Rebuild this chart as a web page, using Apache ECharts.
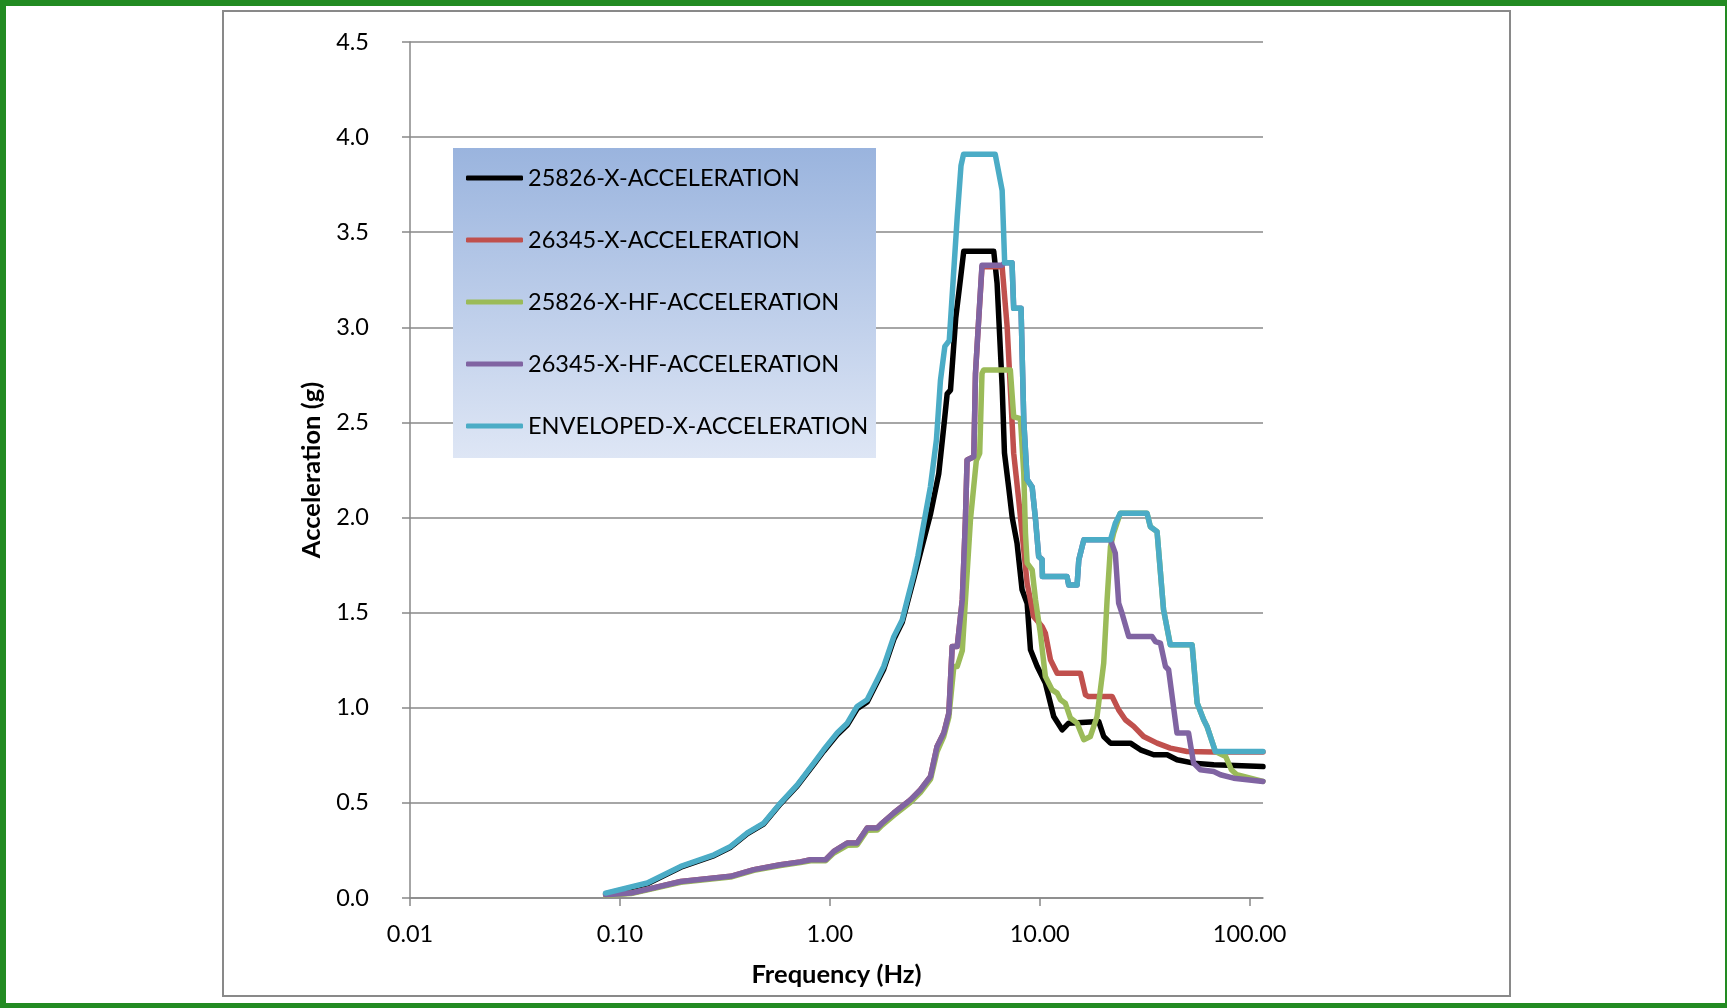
<!DOCTYPE html>
<html><head><meta charset="utf-8">
<script src="https://cdn.jsdelivr.net/npm/echarts@6/dist/echarts.min.js"></script>
<style>
html,body{margin:0;padding:0;background:#fff;}
#chart{position:absolute;left:0;top:0;width:1727px;height:1008px;}
#frame{position:absolute;left:222px;top:10px;width:1289px;height:987px;border:2px solid #898989;box-sizing:border-box;pointer-events:none;}
#outer{position:absolute;left:0;top:0;width:1727px;height:1008px;box-sizing:border-box;border-style:solid;border-color:#228B22;border-width:6px 2px 5px 6px;pointer-events:none;}
</style></head>
<body>
<div id="chart"></div><div id="frame"></div><div id="outer"></div>
<script>
// ---- data (frequency in Hz, acceleration in g) ----
const seriesNames = ['25826-X-ACCELERATION','26345-X-ACCELERATION','25826-X-HF-ACCELERATION','26345-X-HF-ACCELERATION','ENVELOPED-X-ACCELERATION'];
const xTickValues = [0.01, 0.1, 1, 10, 100];

const f25826X = [0.0855,0.135,0.195,0.281,0.337,0.405,0.485,0.582,0.700,0.839,0.935,1.084,1.211,1.349,1.507,1.683,1.807,2.018,2.213,2.339,2.512,2.754,3.020,3.304,3.508,3.622,3.758,3.981,4.188,4.345,6.039,6.266,6.622,6.792,7.112,7.396,7.798,8.241,8.710,9.036,9.727,10.64,11.66,12.79,13.74,19.10,20.18,21.73,27.04,30.20,34.91,40.46,45.08,54.08,67.45,115.8];
const a25826X = [0.022,0.075,0.162,0.223,0.267,0.338,0.390,0.495,0.590,0.703,0.772,0.858,0.909,0.995,1.030,1.135,1.203,1.360,1.450,1.550,1.680,1.850,2.020,2.230,2.500,2.650,2.670,3.050,3.250,3.400,3.400,3.230,2.690,2.340,2.160,2.000,1.865,1.620,1.550,1.305,1.217,1.130,0.954,0.884,0.919,0.928,0.849,0.814,0.814,0.779,0.753,0.753,0.727,0.709,0.700,0.691];

const f26345XHF = [0.0855,0.113,0.195,0.337,0.435,0.582,0.724,0.810,0.955,1.045,1.211,1.349,1.507,1.683,1.778,2.018,2.421,2.704,3.020,3.243,3.491,3.690,3.828,4.046,4.276,4.426,4.508,4.853,4.943,5.117,5.309,6.622,6.808,7.379,7.516,8.147,8.395,8.710,9.204,9.550,9.886,10.26,10.30,13.49,13.74,15.07,15.35,16.22,21.73,22.91,23.77,24.66,26.55,34.28,35.56,37.58,39.72,41.11,45.08,51.17,54.08,58.21,67.45,72.61,83.95,115.8];
const a26345XHF = [0.017,0.026,0.087,0.114,0.149,0.175,0.190,0.201,0.201,0.245,0.289,0.289,0.368,0.368,0.394,0.447,0.516,0.569,0.639,0.797,0.867,0.972,1.322,1.322,1.567,1.988,2.303,2.320,2.758,3.038,3.327,3.327,3.340,3.340,3.100,3.100,2.510,2.200,2.160,1.990,1.795,1.780,1.690,1.690,1.646,1.646,1.777,1.883,1.883,1.813,1.550,1.497,1.375,1.375,1.348,1.340,1.217,1.200,0.867,0.867,0.709,0.674,0.665,0.648,0.630,0.613];

const f26345X = [0.0855,0.113,0.195,0.337,0.435,0.582,0.724,0.810,0.955,1.045,1.211,1.349,1.507,1.683,1.778,2.018,2.421,2.704,3.020,3.243,3.491,3.690,3.828,4.046,4.276,4.426,4.508,4.853,4.943,5.117,5.309,6.622,6.998,7.516,7.943,8.241,8.710,9.354,10.26,10.64,11.25,12.11,15.63,16.52,17.10,22.13,23.77,25.59,28.05,31.26,36.22,41.88,50.35,67.45,115.8];
const a26345X = [0.017,0.026,0.087,0.114,0.149,0.175,0.190,0.201,0.201,0.245,0.289,0.289,0.368,0.368,0.394,0.447,0.516,0.569,0.639,0.797,0.867,0.972,1.322,1.322,1.567,1.988,2.303,2.320,2.758,3.038,3.318,3.318,3.000,2.338,2.093,1.918,1.655,1.480,1.427,1.392,1.252,1.182,1.182,1.068,1.059,1.059,0.989,0.937,0.902,0.849,0.814,0.788,0.770,0.767,0.767];

const f25826XHF = [0.0855,0.113,0.195,0.337,0.435,0.582,0.724,0.810,0.955,1.045,1.211,1.349,1.507,1.683,1.778,2.018,2.421,2.704,3.020,3.243,3.491,3.690,3.899,4.046,4.276,4.677,4.989,5.176,5.309,5.408,7.244,7.516,8.091,8.395,8.551,8.710,9.204,9.550,10.07,10.64,11.46,12.11,12.56,13.24,14.00,15.07,16.22,17.42,18.75,20.18,20.94,21.73,22.49,24.21,32.43,33.65,36.22,38.90,41.88,53.21,56.23,60.39,62.66,68.71,76.91,81.85,86.90,115.8];
const a25826XHF = [0.014,0.023,0.083,0.110,0.145,0.171,0.186,0.196,0.196,0.236,0.277,0.279,0.356,0.357,0.383,0.434,0.503,0.556,0.625,0.770,0.850,0.950,1.217,1.217,1.300,1.988,2.300,2.338,2.758,2.776,2.776,2.530,2.520,2.233,1.918,1.760,1.725,1.567,1.392,1.164,1.094,1.077,1.042,1.024,0.946,0.919,0.832,0.849,0.954,1.235,1.567,1.847,1.918,2.023,2.023,1.952,1.926,1.515,1.331,1.331,1.025,0.937,0.902,0.770,0.744,0.674,0.648,0.613];

const fEnv = [0.0855,0.135,0.195,0.281,0.337,0.405,0.485,0.582,0.700,0.839,0.935,1.084,1.211,1.349,1.507,1.683,1.807,2.018,2.213,2.339,2.512,2.630,2.825,3.013,3.221,3.365,3.532,3.707,4.046,4.217,4.335,6.138,6.622,6.808,7.379,7.516,8.147,8.395,8.710,9.204,9.550,9.886,10.26,10.30,13.49,13.74,15.07,15.35,16.22,21.73,22.91,24.21,32.43,33.65,36.22,38.90,41.88,53.21,56.23,60.39,62.66,68.71,115.8];
const aEnv = [0.026,0.079,0.166,0.227,0.271,0.342,0.394,0.499,0.595,0.709,0.779,0.867,0.919,1.007,1.042,1.147,1.217,1.374,1.462,1.567,1.700,1.800,1.990,2.160,2.410,2.720,2.900,2.930,3.580,3.850,3.910,3.910,3.720,3.340,3.340,3.100,3.100,2.510,2.200,2.160,1.990,1.795,1.780,1.690,1.690,1.646,1.646,1.777,1.883,1.883,1.970,2.023,2.023,1.952,1.926,1.515,1.331,1.331,1.025,0.937,0.902,0.770,0.770];

const seriesColors = ['#000000','#C0504D','#9BBB59','#8064A2','#4BACC6'];
const seriesF = [f25826X, f26345X, f25826XHF, f26345XHF, fEnv];
const seriesA = [a25826X, a26345X, a25826XHF, a26345XHF, aEnv];

const FONT = 'Lato';
const chart = echarts.init(document.getElementById('chart'), null, {renderer: 'canvas'});

const series = seriesNames.map((name, k) => ({
  name: name,
  type: 'line',
  data: seriesF[k].map((f, i) => [f, seriesA[k][i]]),
  symbol: 'none',
  smooth: false,
  z: 5 + k,
  color: seriesColors[k],
  lineStyle: {width: 5.5, color: seriesColors[k], cap: 'round', join: 'round'}
}));

chart.setOption({
  animation: false,
  backgroundColor: '#ffffff',
  grid: {left: 410, right: 464, top: 42, bottom: 110, containLabel: false},
  xAxis: {
    type: 'log', logBase: 10, min: 0.01, max: 115.8,
    name: 'Frequency (Hz)', nameLocation: 'middle', nameGap: 64,
    nameTextStyle: {fontFamily: FONT, fontWeight: 'bold', fontSize: 25.5, color: '#000'},
    axisLine: {show: true, onZero: false, lineStyle: {color: '#888888', width: 1.5}},
    axisTick: {show: true, length: 8, inside: false, customValues: xTickValues, lineStyle: {color: '#888888', width: 1.5}},
    axisLabel: {show: true, customValues: xTickValues, margin: 24, fontFamily: FONT, fontSize: 23.5, color: '#000',
      formatter: v => Number(v).toFixed(2)},
    splitLine: {show: false},
    minorTick: {show: false}
  },
  yAxis: {
    type: 'value', min: 0, max: 4.5, interval: 0.5,
    name: 'Acceleration (g)', nameLocation: 'middle', nameRotate: 90, nameGap: 85,
    nameTextStyle: {fontFamily: FONT, fontWeight: 'bold', fontSize: 25.5, color: '#000'},
    axisLine: {show: true, lineStyle: {color: '#888888', width: 1.5}},
    axisTick: {show: true, length: 8, inside: false, lineStyle: {color: '#888888', width: 1.5}},
    axisLabel: {margin: 41, fontFamily: FONT, fontSize: 23.5, color: '#000', formatter: v => v.toFixed(1)},
    splitLine: {show: true, lineStyle: {color: '#888888', width: 1.5}}
  },
  legend: {
    show: true, orient: 'vertical', left: 466, top: 164,
    itemWidth: 57, itemHeight: 5, itemGap: 34, icon: 'roundRect',
    data: seriesNames,
    textStyle: {fontFamily: FONT, fontSize: 23.5, color: '#000', lineHeight: 28, padding: [0,0,0,0]},
    padding: 0, z: 10
  },
  graphic: [{
    type: 'rect', z: 3, silent: true,
    shape: {x: 453, y: 148, width: 423, height: 310},
    style: {fill: {type: 'linear', x: 0, y: 0, x2: 0, y2: 1, colorStops: [{offset: 0, color: '#9AB4DE'}, {offset: 1, color: '#DEE6F5'}]}}
  }],
  series: series
});
</script>
</body></html>
